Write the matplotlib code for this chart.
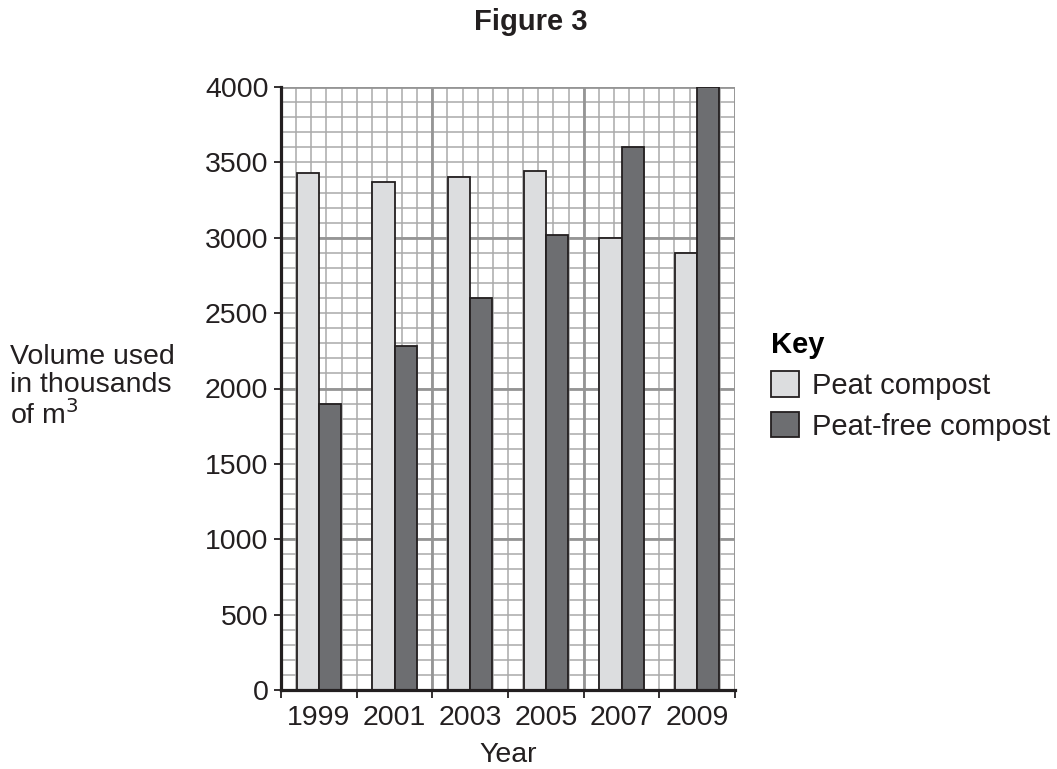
import numpy as np
import matplotlib
matplotlib.use('Agg')
import matplotlib.pyplot as plt

years = ['1999', '2001', '2003', '2005', '2007', '2009']
peat = [3430, 3370, 3400, 3445, 3000, 2900]
peat_free = [1900, 2280, 2600, 3020, 3600, 4000]

plt.rcParams['font.family'] = ['Liberation Sans', 'DejaVu Sans']

fig = plt.figure(figsize=(10.57, 7.69), dpi=100)
ax = fig.add_axes([281/1057, 1-690/769, 454/1057, 603/769])

# slot of 5 grid units per year
slot = 5
x0 = np.arange(len(years)) * slot
w = 1.46
ax.bar(x0 + 1.04, peat, width=w, align='edge', color='#dcdddf',
       edgecolor='#231f20', linewidth=1.3, zorder=3, label='Peat compost')
ax.bar(x0 + 1.04 + w, peat_free, width=w, align='edge', color='#6d6e71',
       edgecolor='#231f20', linewidth=1.3, zorder=3, label='Peat-free compost')

xmax = slot * len(years)
ax.set_xlim(0, xmax)
ax.set_ylim(0, 4000)

# graph-paper grid
ax.vlines(np.arange(0, xmax + 1, 1), 0, 4000, color='#aaaaaa', lw=1.1, zorder=1)
ax.hlines(np.arange(0, 4001, 100), 0, xmax, color='#aaaaaa', lw=1.1, zorder=1)
ax.vlines(np.arange(0, xmax + 1, 10), 0, 4000, color='#959595', lw=2.0, zorder=2)
ax.hlines(np.arange(0, 4001, 1000), 0, xmax, color='#959595', lw=2.0, zorder=2)

for s in ['top', 'right']:
    ax.spines[s].set_visible(False)
for s in ['left', 'bottom']:
    ax.spines[s].set_linewidth(2.3)
    ax.spines[s].set_color('#231f20')
    ax.spines[s].set_zorder(5)

fs = 20.5
ax.set_yticks(np.arange(0, 4001, 500))
ax.tick_params(axis='y', length=5, width=1.3, pad=4, labelsize=fs,
               color='#231f20', labelcolor='#231f20')
ax.set_xticks(np.arange(0, xmax + 1, slot))
ax.set_xticklabels([])
ax.tick_params(axis='x', which='major', length=6, width=1.3, color='#231f20')
ax.set_xticks(x0 + slot / 2, minor=True)
ax.set_xticklabels(years, minor=True)
ax.tick_params(axis='x', which='minor', length=0, pad=11, labelsize=fs,
               labelcolor='#231f20')

ax.set_xlabel('Year', fontsize=fs, color='#231f20', labelpad=8)

fig.text(10/1057, 1-387/769, 'Volume used\nin thousands\nof m$^3$', fontsize=fs,
         color='#231f20', ha='left', va='center', linespacing=1.1)

fig.text(531/1057, 1-30/769, 'Figure 3', fontsize=21, fontweight='bold',
         color='#231f20', ha='center', va='baseline')

leg = ax.legend(loc='upper left', bbox_to_anchor=(1.08, 0.595), frameon=False,
                title='Key', fontsize=21, title_fontsize=21, alignment='left',
                handlelength=0.95, handleheight=0.95, handletextpad=0.45,
                labelspacing=0.42, borderaxespad=0, borderpad=0)
leg.get_title().set_fontweight('bold')
for t in leg.get_texts():
    t.set_color('#231f20')

fig.savefig('out.png', dpi=100)
